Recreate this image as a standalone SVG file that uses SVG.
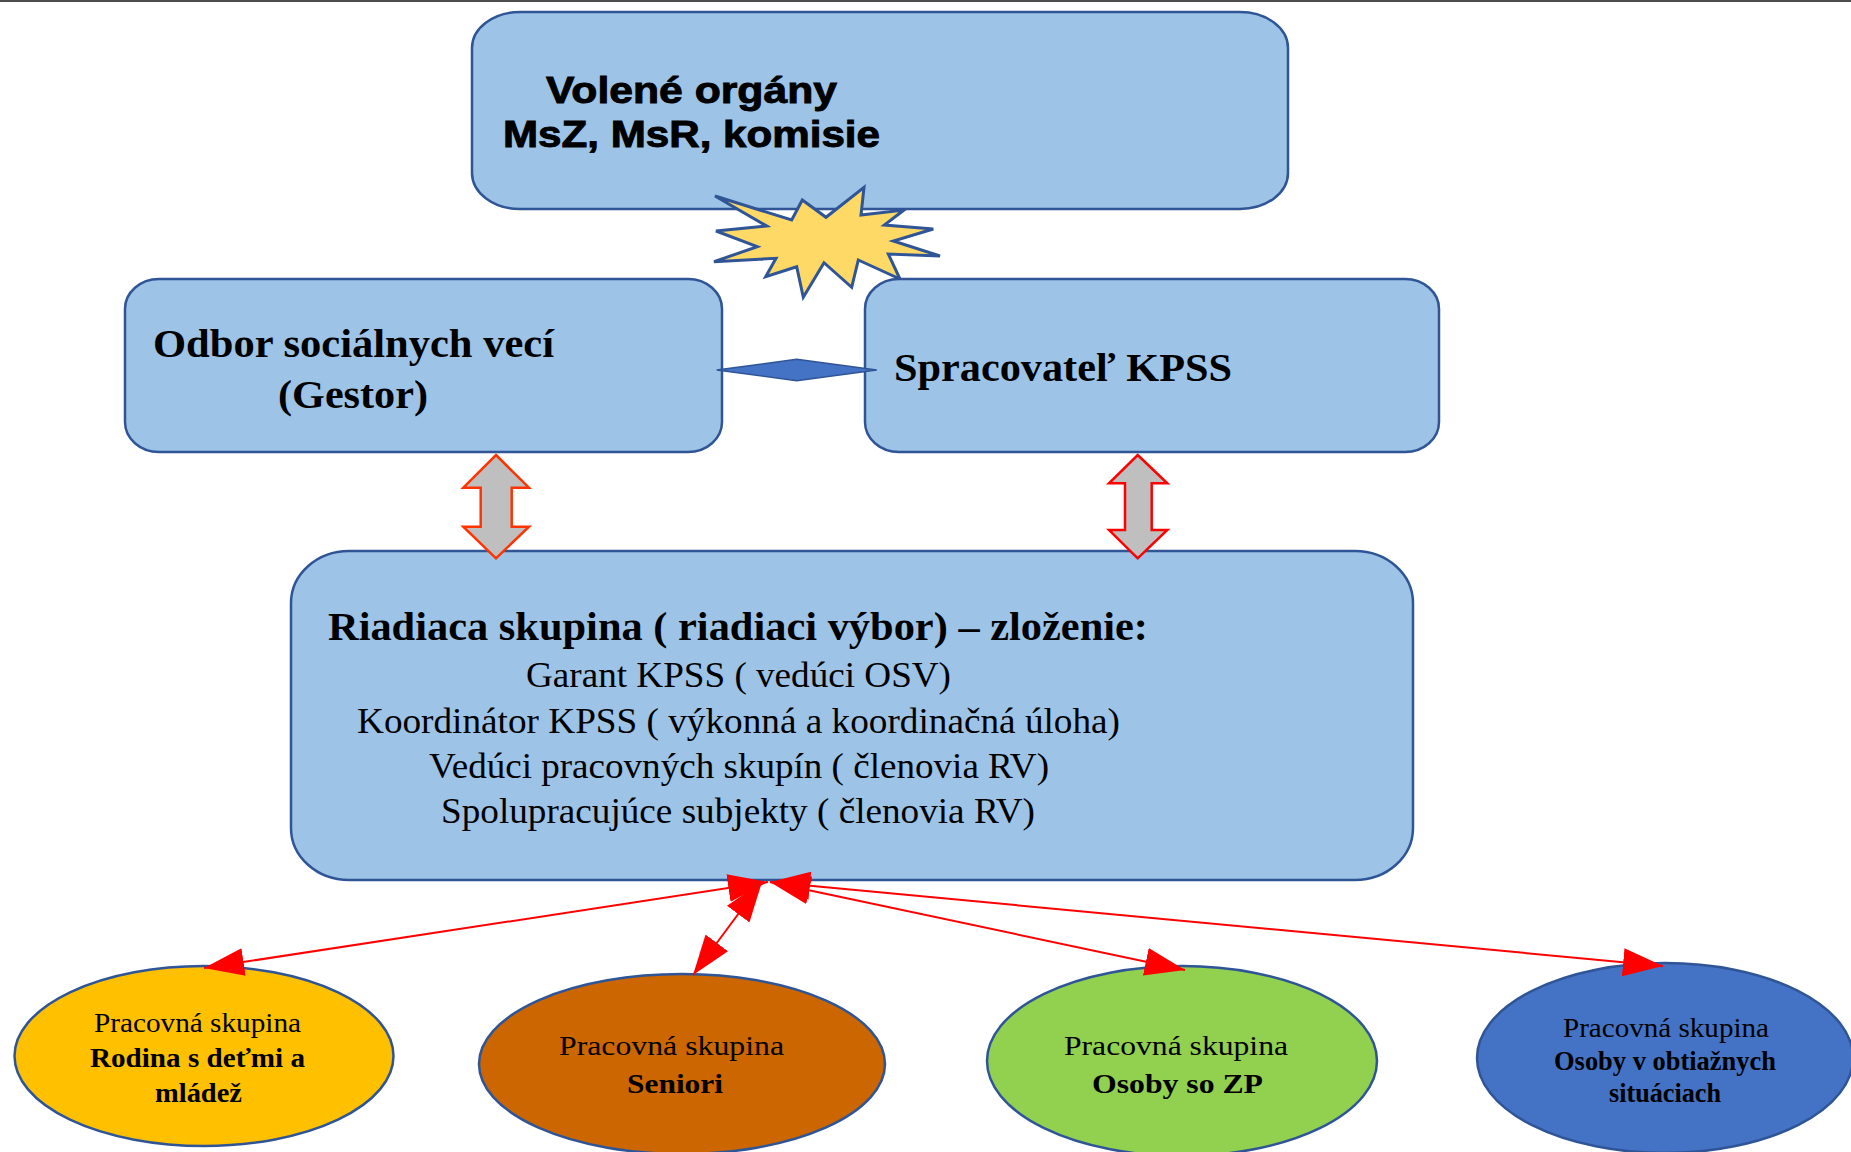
<svg xmlns="http://www.w3.org/2000/svg" width="1851" height="1152" viewBox="0 0 1851 1152">
<style>
.box{fill:#9DC3E6;stroke:#2F5597;stroke-width:2.5}
.sans{font-family:"Liberation Sans",Arial,sans-serif;font-weight:bold;fill:#000;stroke:#000;stroke-width:0.9}
.serif{font-family:"Liberation Serif","Times New Roman",serif;fill:#000}
.b{font-weight:bold}
.ell{stroke:#2F5597;stroke-width:2.5}
.conn{stroke:#FF0000;stroke-width:2;fill:none;marker-start:url(#ah);marker-end:url(#ah)}
.dbl{fill:#BFBFBF;stroke-width:2.5;stroke-linejoin:miter}
</style>
<defs>
<marker id="ah" viewBox="0 0 40 28" markerWidth="40" markerHeight="28" refX="40" refY="14" orient="auto-start-reverse" markerUnits="userSpaceOnUse">
<path d="M0,0 L40,14 L0,28 z" fill="#FF0000"/>
</marker>
</defs>
<rect x="0" y="0" width="1851" height="2" fill="#4D4D4D"/>

<g id="volene-organy">
<rect class="box" x="472" y="12" width="816" height="197" rx="48" ry="36"/>
<text class="sans" font-size="36" x="546" y="103" textLength="291" lengthAdjust="spacingAndGlyphs">Volené orgány</text>
<text class="sans" font-size="36" x="503" y="147" textLength="377" lengthAdjust="spacingAndGlyphs">MsZ, MsR, komisie</text>
</g>

<g id="star">
<polygon points="715,196 791.7,220 802.3,200 826,217.3 864,187.3 861,215 904,210 884.3,225 933.3,229 893.3,241 940,256 888.3,254 900,279 858.3,260 851.7,287.3 824,262.7 803.3,297.3 796.7,266.7 765.7,276.7 776,258.3 714,261.7 757.3,246.7 716,231 766.7,226" fill="#FFD966" stroke="#2F5597" stroke-width="3" stroke-linejoin="miter"/>
</g>

<g id="odbor">
<rect class="box" x="125" y="279" width="597" height="173" rx="34" ry="30"/>
<text class="serif b" font-size="40" x="153" y="357" textLength="401" lengthAdjust="spacingAndGlyphs">Odbor sociálnych vecí</text>
<text class="serif b" font-size="40" x="278" y="408" textLength="150" lengthAdjust="spacingAndGlyphs">(Gestor)</text>
</g>

<g id="spracovatel">
<rect class="box" x="865" y="279" width="574" height="173" rx="34" ry="30"/>
<text class="serif b" font-size="40" x="894" y="381" textLength="338" lengthAdjust="spacingAndGlyphs">Spracovateľ KPSS</text>
</g>

<g id="riadiaca">
<rect class="box" x="291" y="551" width="1122" height="329" rx="58" ry="52"/>
<text class="serif b" font-size="40" x="328" y="640" textLength="820" lengthAdjust="spacingAndGlyphs">Riadiaca skupina ( riadiaci výbor) – zloženie:</text>
<text class="serif" font-size="35" x="526" y="687" textLength="425" lengthAdjust="spacingAndGlyphs">Garant KPSS ( vedúci OSV)</text>
<text class="serif" font-size="35" x="357" y="733" textLength="763" lengthAdjust="spacingAndGlyphs">Koordinátor KPSS ( výkonná a koordinačná úloha)</text>
<text class="serif" font-size="35" x="429" y="778" textLength="620" lengthAdjust="spacingAndGlyphs">Vedúci pracovných skupín ( členovia RV)</text>
<text class="serif" font-size="35" x="441" y="823" textLength="594" lengthAdjust="spacingAndGlyphs">Spolupracujúce subjekty ( členovia RV)</text>
</g>

<g id="ps-rodina">
<ellipse class="ell" cx="204" cy="1056" rx="189.5" ry="90" fill="#FFC000"/>
<text class="serif" font-size="27" x="94" y="1032" textLength="207" lengthAdjust="spacingAndGlyphs">Pracovná skupina</text>
<text class="serif b" font-size="27" x="90" y="1067" textLength="215" lengthAdjust="spacingAndGlyphs">Rodina s deťmi a</text>
<text class="serif b" font-size="27" x="155" y="1102" textLength="87" lengthAdjust="spacingAndGlyphs">mládež</text>
</g>

<g id="ps-seniori">
<ellipse class="ell" cx="682" cy="1064" rx="203" ry="90" fill="#CC6600"/>
<text class="serif" font-size="28" x="559" y="1055" textLength="225" lengthAdjust="spacingAndGlyphs">Pracovná skupina</text>
<text class="serif b" font-size="28" x="627" y="1093" textLength="96" lengthAdjust="spacingAndGlyphs">Seniori</text>
</g>

<g id="ps-zp">
<ellipse class="ell" cx="1182" cy="1061" rx="195" ry="95" fill="#92D050"/>
<text class="serif" font-size="28" x="1064" y="1055" textLength="224" lengthAdjust="spacingAndGlyphs">Pracovná skupina</text>
<text class="serif b" font-size="28" x="1092" y="1093" textLength="171" lengthAdjust="spacingAndGlyphs">Osoby so ZP</text>
</g>

<g id="ps-obtiazne">
<ellipse class="ell" cx="1665" cy="1058" rx="188" ry="95" fill="#4472C4"/>
<text class="serif" font-size="27" x="1563" y="1037" textLength="206" lengthAdjust="spacingAndGlyphs">Pracovná skupina</text>
<text class="serif b" font-size="27" x="1554" y="1070" textLength="222" lengthAdjust="spacingAndGlyphs">Osoby v obtiažnych</text>
<text class="serif b" font-size="27" x="1609" y="1102" textLength="112" lengthAdjust="spacingAndGlyphs">situáciach</text>
</g>

<g id="connectors">
<polygon points="716.7,370 796.7,359.3 876.7,370 796.7,380.7" fill="#4472C4" stroke="#2F5597" stroke-width="1.5"/>
<polygon class="dbl" stroke="#FF3300" points="496,455 529,487.7 511.7,487.7 511.7,526.7 529,526.7 496,558.3 463.3,526.7 480.7,526.7 480.7,487.7 463.3,487.7"/>
<polygon class="dbl" stroke="#FF0000" points="1137.7,455 1167.3,483.3 1151.7,483.3 1151.7,530 1167.3,530 1137.7,558.3 1109,530 1125,530 1125,483.3 1109,483.3"/>
<path class="conn" d="M768,882 L204,968"/>
<path class="conn" d="M762,882 L693,975"/>
<path class="conn" d="M770,882 L1185,970"/>
<path class="conn" d="M770,882 L1663,966"/>
</g>
</svg>
